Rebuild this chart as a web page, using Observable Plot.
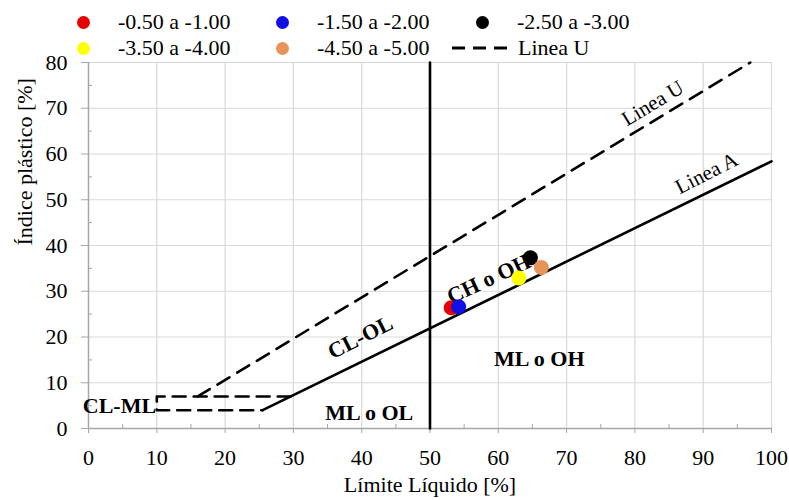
<!DOCTYPE html>
<html>
<head>
<meta charset="utf-8">
<script src="https://cdn.jsdelivr.net/npm/d3@7"></script>
<script src="https://cdn.jsdelivr.net/npm/@observablehq/plot@0.6"></script>
<style>
  body { margin: 0; background: white; }
  #legend { position: relative; width: 789px; height: 50px; font-family: "Liberation Serif", "Times New Roman", serif; font-size: 22px; color: #000; }
  #legend .dot { position: absolute; width: 13px; height: 13px; border-radius: 50%; }
  #legend .lab { position: absolute; line-height: 26px; white-space: nowrap; }
  #chart svg { display: block; overflow: visible; }
</style>
</head>
<body>
<div id="legend"></div>
<div id="chart"></div>
<script>
// ---- data ----
const seriesNames = ["-0.50 a -1.00", "-1.50 a -2.00", "-2.50 a -3.00", "-3.50 a -4.00", "-4.50 a -5.00"];
const seriesColors = ["#e60000", "#1010e6", "#000000", "#ffff00", "#e8935a"];
const liquidLimit = [53.1, 54.2, 64.7, 63.0, 66.3];
const plasticIndex = [26.4, 26.6, 37.3, 32.9, 35.2];

const lineA_LL = [25.5, 100];
const lineA_PI = [4, 58.4];
const lineU_LL = [16, 96.9];
const lineU_PI = [7, 80];
const zoneBox_LL = [29.6, 10, 10, 25.5];
const zoneBox_PI = [7, 7, 4, 4];
const divider_LL = [50, 50];
const divider_PI = [0, 80];

const zoneNames = ["CL-OL", "CH o OH", "ML o OH", "ML o OL"];
const zoneLL = [39.8, 58.6, 66.0, 41.1];
const zonePI = [19.9, 32.7, 15.3, 3.3];
const zoneAngle = [-27, -25, 0, 0];
const clmlName = ["CL-ML"];
const clmlLL = [9.9];
const clmlPI = [5.0];
const lineNames = ["Linea U", "Linea A"];
const lineLL = [82.6, 90.5];
const linePI = [71.1, 55.8];
const lineAngle = [-31, -27];

const xMajor = [0, 10, 20, 30, 40, 50, 60, 70, 80, 90, 100];
const xMinor = [5, 15, 25, 35, 45, 55, 65, 75, 85, 95];
const yMajor = [0, 10, 20, 30, 40, 50, 60, 70, 80];
const yMinor = [5, 15, 25, 35, 45, 55, 65, 75];
const xLabel = "Límite Líquido [%]";
const yLabel = "Índice plástico [%]";
const uLegend = "Linea U";

// ---- legend (HTML, above the SVG) ----
const legend = document.getElementById("legend");
const colX = [83, 282, 482];
const rowY = [22, 48];
seriesNames.forEach((name, i) => {
  const cx = colX[i % 3], cy = rowY[Math.floor(i / 3)];
  const d = document.createElement("span");
  d.className = "dot";
  d.style.left = (cx - 6.5) + "px";
  d.style.top = (cy - 6.5) + "px";
  d.style.background = seriesColors[i];
  legend.appendChild(d);
  const t = document.createElement("span");
  t.className = "lab";
  t.style.left = (cx + 35) + "px";
  t.style.top = (cy - 13) + "px";
  t.textContent = name;
  legend.appendChild(t);
});
{
  const cy = rowY[1];
  const ns = "http://www.w3.org/2000/svg";
  const s = document.createElementNS(ns, "svg");
  s.setAttribute("width", 62); s.setAttribute("height", 10);
  s.style.position = "absolute"; s.style.left = "452px"; s.style.top = (cy - 5) + "px";
  const l = document.createElementNS(ns, "line");
  l.setAttribute("x1", 0); l.setAttribute("x2", 62); l.setAttribute("y1", 5); l.setAttribute("y2", 5);
  l.setAttribute("stroke", "#000"); l.setAttribute("stroke-width", 3); l.setAttribute("stroke-dasharray", "13 8");
  s.appendChild(l);
  legend.appendChild(s);
  const t = document.createElement("span");
  t.className = "lab";
  t.style.left = "518px";
  t.style.top = (cy - 13) + "px";
  t.textContent = uLegend;
  legend.appendChild(t);
}

// ---- chart ----
const pts = seriesNames.map((s, i) => ({s, x: liquidLimit[i], y: plasticIndex[i], c: seriesColors[i]}));
const pairs = (xs, ys) => xs.map((x, i) => ({x, y: ys[i]}));
const zones = zoneNames.map((t, i) => ({t, x: zoneLL[i], y: zonePI[i], r: zoneAngle[i]}));
const lineLabs = lineNames.map((t, i) => ({t, x: lineLL[i], y: linePI[i], r: lineAngle[i]}));
const clml = clmlName.map((t, i) => ({t, x: clmlLL[i], y: clmlPI[i]}));

const chart = Plot.plot({
  width: 789,
  height: 450,
  marginLeft: 88,
  marginRight: 18,
  marginTop: 12,
  marginBottom: 72,
  x: {domain: [0, 100]},
  y: {domain: [0, 80]},
  style: {fontFamily: "'Liberation Serif', 'Times New Roman', serif", fontSize: "22px", color: "#000", background: "white", overflow: "visible"},
  marks: [
    Plot.gridX(xMajor.slice(1), {stroke: "#d9d9d9", strokeOpacity: 1, strokeWidth: 1.2}),
    Plot.gridY(yMajor.slice(1), {stroke: "#d9d9d9", strokeOpacity: 1, strokeWidth: 1.2}),
    Plot.ruleX([0], {stroke: "#a6a6a6", strokeWidth: 1.5}),
    Plot.ruleY([0], {stroke: "#a6a6a6", strokeWidth: 1.5}),
    Plot.axisX({ticks: xMajor, tickSize: 5, tickPadding: 16, stroke: "#a6a6a6", label: null}),
    Plot.axisX({ticks: xMinor, tickSize: -4, text: null, stroke: "#a6a6a6", label: null}),
    Plot.axisY({ticks: yMajor, tickSize: 7, tickPadding: 14, stroke: "#a6a6a6", label: null}),
    Plot.axisY({ticks: yMinor, tickSize: -4, text: null, stroke: "#a6a6a6", label: null}),
    Plot.text([xLabel], {frameAnchor: "bottom", dy: 63, fontSize: 22}),
    Plot.text([yLabel], {frameAnchor: "left", rotate: -90, dx: -64, fontSize: 22}),
    Plot.line(pairs(lineA_LL, lineA_PI), {x: "x", y: "y", stroke: "#000", strokeWidth: 2.6}),
    Plot.line(pairs(divider_LL, divider_PI), {x: "x", y: "y", stroke: "#000", strokeWidth: 2.6}),
    Plot.line(pairs(lineU_LL, lineU_PI), {x: "x", y: "y", stroke: "#000", strokeWidth: 2.6, strokeDasharray: "14 9"}),
    Plot.line(pairs(zoneBox_LL, zoneBox_PI), {x: "x", y: "y", stroke: "#000", strokeWidth: 2.6, strokeDasharray: "13 8"}),
    Plot.text(zones, {x: "x", y: "y", text: "t", rotate: "r", fontWeight: "bold", fontSize: 22}),
    Plot.text(clml, {x: "x", y: "y", text: "t", textAnchor: "end", fontWeight: "bold", fontSize: 22}),
    Plot.text(lineLabs, {x: "x", y: "y", text: "t", rotate: "r", fontSize: 21}),
    Plot.dot(pts, {x: "x", y: "y", fill: "c", r: 7.5, stroke: null})
  ]
});
document.getElementById("chart").appendChild(chart);
</script>
</body>
</html>
